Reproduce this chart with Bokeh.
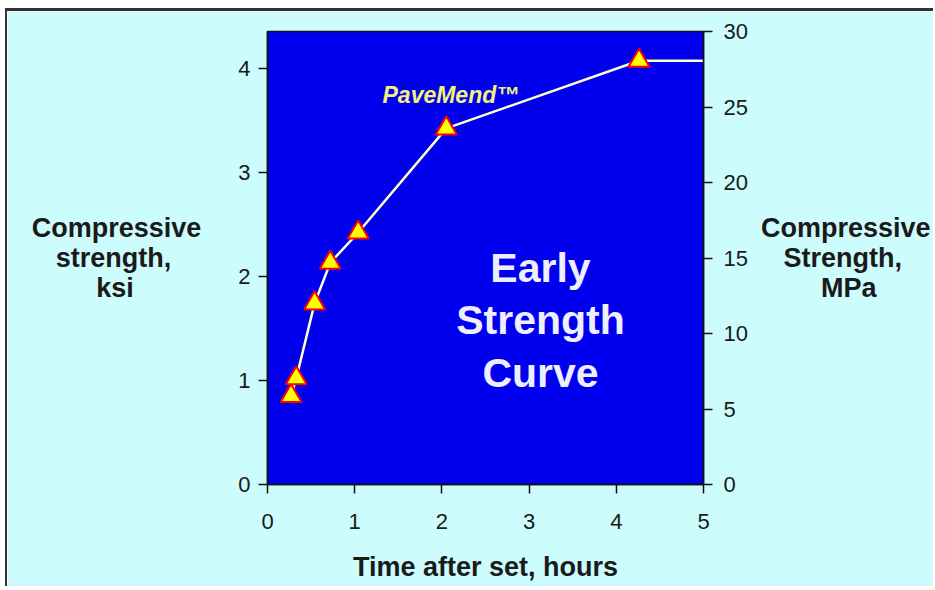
from bokeh.plotting import figure
from bokeh.models import Range1d, LinearAxis, FixedTicker, ColumnDataSource
from bokeh.embed import file_html
from bokeh.resources import INLINE
from bokeh.core.properties import value

# ---- data ----
hours = [0.27, 0.33, 0.54, 0.72, 1.04, 2.05, 4.26]
ksi = [0.85, 1.02, 1.74, 2.13, 2.42, 3.42, 4.07]
# the curve continues flat past the last measured point
tail_hours = [4.26, 5.6]
tail_ksi = [4.07, 4.07]
x_ticks = [0, 1, 2, 3, 4, 5]
ksi_ticks = [0, 1, 2, 3, 4]
mpa_ticks = [0, 5, 10, 15, 20, 25, 30]
MPA_PER_KSI = 6.895
x_max = 5
mpa_max = 30

inner_lines = ["Early", "Strength", "Curve"]
left_title_lines = ["Compressive", "strength,", "ksi"]
right_title_lines = ["Compressive", "Strength,", "MPa"]
x_title = "Time after set, hours"
series_name = "PaveMend\u2122"

# no-break spaces used to centre the lines of a multi-line axis title
NB = "\u00a0"
left_pad = [0, 4, 9]
right_pad = [0, 3, 8]
left_title = "\n".join(t + NB * n for t, n in zip(left_title_lines, left_pad))
right_title = "\n".join(NB * n + t for t, n in zip(right_title_lines, right_pad))

# ---- layout (page pixels) ----
W, H = 928, 578
ORG_X, ORG_Y = 7, 11          # page position of the canvas (margin + border)
F_L, F_T, F_R, F_B = 267, 31, 703, 484   # frame edges in page pixels
ksi_max = mpa_max / MPA_PER_KSI

def dx(page_x):
    return (page_x - F_L) / (F_R - F_L) * x_max

def dy(page_y):
    return (F_B - page_y) / (F_B - F_T) * ksi_max

FONT = "Liberation Sans"
DARK = "#1a1a1a"
BG = "#ccfcfc"
BLUE = "#0000ee"

p = figure(width=W, height=H, output_backend="svg", toolbar_location=None,
           x_range=Range1d(0, x_max), y_range=Range1d(0, ksi_max),
           min_border_left=F_L - ORG_X, min_border_top=F_T - ORG_Y,
           min_border_right=W - (F_R - ORG_X), min_border_bottom=H - (F_B - ORG_Y))
p.styles = {"margin-left": "5px", "margin-top": "8px",
            "border-top": "3px solid #333333", "border-left": "2px solid #333333"}
p.background_fill_color = BLUE
p.border_fill_color = BG
p.outline_line_color = "#111111"
p.outline_line_width = 1.5
p.grid.visible = False


def style_axis(ax, standoff):
    ax.major_tick_in = 0
    ax.major_tick_out = 9
    ax.minor_tick_line_color = None
    ax.axis_line_color = "#111111"
    ax.axis_line_width = 1.5
    ax.major_tick_line_color = "#111111"
    ax.major_tick_line_width = 1.5
    ax.major_label_text_font = FONT
    ax.major_label_text_font_size = "22px"
    ax.major_label_text_color = DARK
    ax.major_label_standoff = standoff
    ax.axis_label_text_font = FONT
    ax.axis_label_text_font_size = "27px"
    ax.axis_label_text_font_style = "bold"
    ax.axis_label_text_color = DARK
    ax.axis_label_text_line_height = 1.0


p.xaxis.ticker = FixedTicker(ticks=x_ticks)
p.yaxis.ticker = FixedTicker(ticks=ksi_ticks)
style_axis(p.xaxis[0], 20)
style_axis(p.yaxis[0], 8)

p.xaxis.axis_label = x_title
p.xaxis.axis_label_standoff = 20

p.yaxis.axis_label = left_title
p.yaxis.axis_label_orientation = "horizontal"
p.yaxis.axis_label_standoff = 34

p.extra_y_ranges = {"mpa": Range1d(0, mpa_max)}
rax = LinearAxis(y_range_name="mpa", ticker=FixedTicker(ticks=mpa_ticks))
style_axis(rax, 11)
rax.axis_label = right_title
rax.axis_label_orientation = "horizontal"
rax.axis_label_standoff = 10
p.add_layout(rax, "right")

# ---- curve ----
src = ColumnDataSource(dict(x=hours, y=ksi))
p.line(tail_hours, tail_ksi, line_color="#ffffcc", line_width=2.5)
p.line("x", "y", source=src, line_color="#ffffcc", line_width=2.5)
p.scatter("x", "y", source=src, marker="triangle", size=21,
          fill_color="#ffff00", line_color="#ff0000", line_width=2)

# ---- texts inside the frame ----
p.text(x=[dx(382)], y=[dy(94)], text=[series_name], text_font=value(FONT),
       text_font_size="23px", text_font_style="bold italic", text_color="#f2f27a",
       text_align="left", text_baseline="middle")
p.text(x=[dx(540)] * 3, y=[dy(267), dy(319), dy(372)], text=inner_lines,
       text_font=value(FONT), text_font_size="41px", text_font_style="bold",
       text_color="#eeeeff", text_align="center", text_baseline="middle")

open("out.html", "w").write(file_html(p, INLINE))
